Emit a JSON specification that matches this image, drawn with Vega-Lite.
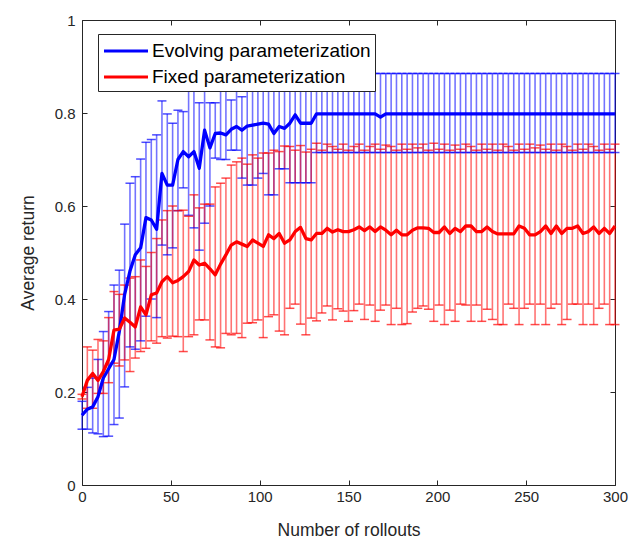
{
  "$schema": "https://vega.github.io/schema/vega-lite/v6.json",
  "width": 533,
  "height": 465,
  "autosize": {"type": "none"},
  "padding": {"left": 82, "top": 20, "right": 15, "bottom": 54},
  "background": "white",
  "config": {
    "view": {"stroke": "#262626", "strokeWidth": 1},
    "font": "Liberation Sans",
    "axis": {"grid": false, "domain": false, "labelFont": "Liberation Sans", "labelFontSize": 15, "labelColor": "#262626", "tickColor": "#262626", "tickWidth": 1, "titleFont": "Liberation Sans", "titleFontSize": 17.5, "titleFontWeight": "normal", "titleColor": "#262626", "labelFlush": false}
  },
  "data": {"values": [
    {"s":"E","x":0,"m":0.15,"lo":0.12,"hi":0.18},
    {"s":"E","x":3,"m":0.163,"lo":0.12,"hi":0.21},
    {"s":"E","x":6,"m":0.168,"lo":0.112,"hi":0.23},
    {"s":"E","x":9,"m":0.19,"lo":0.11,"hi":0.27},
    {"s":"E","x":12,"m":0.23,"lo":0.104,"hi":0.33},
    {"s":"E","x":15,"m":0.25,"lo":0.105,"hi":0.373},
    {"s":"E","x":18,"m":0.27,"lo":0.13,"hi":0.43},
    {"s":"E","x":21,"m":0.33,"lo":0.144,"hi":0.462},
    {"s":"E","x":24,"m":0.41,"lo":0.211,"hi":0.561},
    {"s":"E","x":27,"m":0.46,"lo":0.297,"hi":0.649},
    {"s":"E","x":30,"m":0.495,"lo":0.292,"hi":0.663},
    {"s":"E","x":33,"m":0.51,"lo":0.31,"hi":0.701},
    {"s":"E","x":36,"m":0.575,"lo":0.363,"hi":0.737},
    {"s":"E","x":39,"m":0.57,"lo":0.4,"hi":0.743},
    {"s":"E","x":42,"m":0.55,"lo":0.36,"hi":0.753},
    {"s":"E","x":45,"m":0.67,"lo":0.516,"hi":0.826},
    {"s":"E","x":48,"m":0.645,"lo":0.495,"hi":0.798},
    {"s":"E","x":51,"m":0.645,"lo":0.51,"hi":0.778},
    {"s":"E","x":54,"m":0.7,"lo":0.59,"hi":0.806},
    {"s":"E","x":57,"m":0.717,"lo":0.639,"hi":0.803},
    {"s":"E","x":60,"m":0.706,"lo":0.58,"hi":0.848},
    {"s":"E","x":63,"m":0.717,"lo":0.553,"hi":0.9},
    {"s":"E","x":66,"m":0.681,"lo":0.505,"hi":0.822},
    {"s":"E","x":69,"m":0.763,"lo":0.563,"hi":0.92},
    {"s":"E","x":72,"m":0.725,"lo":0.6,"hi":0.822},
    {"s":"E","x":75,"m":0.756,"lo":0.703,"hi":0.822},
    {"s":"E","x":78,"m":0.757,"lo":0.7,"hi":0.93},
    {"s":"E","x":81,"m":0.753,"lo":0.7,"hi":0.92},
    {"s":"E","x":84,"m":0.765,"lo":0.72,"hi":0.828},
    {"s":"E","x":87,"m":0.771,"lo":0.72,"hi":0.94},
    {"s":"E","x":90,"m":0.763,"lo":0.66,"hi":0.835},
    {"s":"E","x":93,"m":0.772,"lo":0.645,"hi":0.92},
    {"s":"E","x":96,"m":0.774,"lo":0.645,"hi":0.93},
    {"s":"E","x":99,"m":0.776,"lo":0.66,"hi":0.94},
    {"s":"E","x":102,"m":0.778,"lo":0.67,"hi":0.95},
    {"s":"E","x":105,"m":0.776,"lo":0.624,"hi":0.93},
    {"s":"E","x":108,"m":0.756,"lo":0.624,"hi":0.92},
    {"s":"E","x":111,"m":0.771,"lo":0.68,"hi":0.93},
    {"s":"E","x":114,"m":0.767,"lo":0.68,"hi":0.93},
    {"s":"E","x":117,"m":0.778,"lo":0.65,"hi":0.94},
    {"s":"E","x":120,"m":0.796,"lo":0.65,"hi":0.95},
    {"s":"E","x":123,"m":0.778,"lo":0.65,"hi":0.93},
    {"s":"E","x":126,"m":0.778,"lo":0.65,"hi":0.92},
    {"s":"E","x":129,"m":0.778,"lo":0.65,"hi":0.92},
    {"s":"E","x":132,"m":0.798,"lo":0.715,"hi":0.885},
    {"s":"E","x":135,"m":0.798,"lo":0.715,"hi":0.885},
    {"s":"E","x":138,"m":0.798,"lo":0.715,"hi":0.885},
    {"s":"E","x":141,"m":0.798,"lo":0.715,"hi":0.885},
    {"s":"E","x":144,"m":0.798,"lo":0.715,"hi":0.885},
    {"s":"E","x":147,"m":0.798,"lo":0.715,"hi":0.885},
    {"s":"E","x":150,"m":0.798,"lo":0.715,"hi":0.885},
    {"s":"E","x":153,"m":0.798,"lo":0.715,"hi":0.885},
    {"s":"E","x":156,"m":0.798,"lo":0.715,"hi":0.885},
    {"s":"E","x":159,"m":0.798,"lo":0.715,"hi":0.885},
    {"s":"E","x":162,"m":0.798,"lo":0.715,"hi":0.885},
    {"s":"E","x":165,"m":0.798,"lo":0.715,"hi":0.885},
    {"s":"E","x":168,"m":0.791,"lo":0.715,"hi":0.885},
    {"s":"E","x":171,"m":0.798,"lo":0.715,"hi":0.885},
    {"s":"E","x":174,"m":0.798,"lo":0.715,"hi":0.885},
    {"s":"E","x":177,"m":0.798,"lo":0.715,"hi":0.885},
    {"s":"E","x":180,"m":0.798,"lo":0.715,"hi":0.885},
    {"s":"E","x":183,"m":0.798,"lo":0.715,"hi":0.885},
    {"s":"E","x":186,"m":0.798,"lo":0.715,"hi":0.885},
    {"s":"E","x":189,"m":0.798,"lo":0.715,"hi":0.885},
    {"s":"E","x":192,"m":0.798,"lo":0.715,"hi":0.885},
    {"s":"E","x":195,"m":0.798,"lo":0.715,"hi":0.885},
    {"s":"E","x":198,"m":0.798,"lo":0.715,"hi":0.885},
    {"s":"E","x":201,"m":0.798,"lo":0.715,"hi":0.885},
    {"s":"E","x":204,"m":0.798,"lo":0.715,"hi":0.885},
    {"s":"E","x":207,"m":0.798,"lo":0.715,"hi":0.885},
    {"s":"E","x":210,"m":0.798,"lo":0.715,"hi":0.885},
    {"s":"E","x":213,"m":0.798,"lo":0.715,"hi":0.885},
    {"s":"E","x":216,"m":0.798,"lo":0.715,"hi":0.885},
    {"s":"E","x":219,"m":0.798,"lo":0.715,"hi":0.885},
    {"s":"E","x":222,"m":0.798,"lo":0.715,"hi":0.885},
    {"s":"E","x":225,"m":0.798,"lo":0.715,"hi":0.885},
    {"s":"E","x":228,"m":0.798,"lo":0.715,"hi":0.885},
    {"s":"E","x":231,"m":0.798,"lo":0.715,"hi":0.885},
    {"s":"E","x":234,"m":0.798,"lo":0.715,"hi":0.885},
    {"s":"E","x":237,"m":0.798,"lo":0.715,"hi":0.885},
    {"s":"E","x":240,"m":0.798,"lo":0.715,"hi":0.885},
    {"s":"E","x":243,"m":0.798,"lo":0.715,"hi":0.885},
    {"s":"E","x":246,"m":0.798,"lo":0.715,"hi":0.885},
    {"s":"E","x":249,"m":0.798,"lo":0.715,"hi":0.885},
    {"s":"E","x":252,"m":0.798,"lo":0.715,"hi":0.885},
    {"s":"E","x":255,"m":0.798,"lo":0.715,"hi":0.885},
    {"s":"E","x":258,"m":0.798,"lo":0.715,"hi":0.885},
    {"s":"E","x":261,"m":0.798,"lo":0.715,"hi":0.885},
    {"s":"E","x":264,"m":0.798,"lo":0.715,"hi":0.885},
    {"s":"E","x":267,"m":0.798,"lo":0.715,"hi":0.885},
    {"s":"E","x":270,"m":0.798,"lo":0.715,"hi":0.885},
    {"s":"E","x":273,"m":0.798,"lo":0.715,"hi":0.885},
    {"s":"E","x":276,"m":0.798,"lo":0.715,"hi":0.885},
    {"s":"E","x":279,"m":0.798,"lo":0.715,"hi":0.885},
    {"s":"E","x":282,"m":0.798,"lo":0.715,"hi":0.885},
    {"s":"E","x":285,"m":0.798,"lo":0.715,"hi":0.885},
    {"s":"E","x":288,"m":0.798,"lo":0.715,"hi":0.885},
    {"s":"E","x":291,"m":0.798,"lo":0.715,"hi":0.885},
    {"s":"E","x":294,"m":0.798,"lo":0.715,"hi":0.885},
    {"s":"E","x":297,"m":0.798,"lo":0.715,"hi":0.885},
    {"s":"E","x":300,"m":0.798,"lo":0.715,"hi":0.885},
    {"s":"F","x":0,"m":0.19,"lo":0.185,"hi":0.195},
    {"s":"F","x":3,"m":0.225,"lo":0.165,"hi":0.297},
    {"s":"F","x":6,"m":0.24,"lo":0.165,"hi":0.29},
    {"s":"F","x":9,"m":0.225,"lo":0.197,"hi":0.313},
    {"s":"F","x":12,"m":0.244,"lo":0.197,"hi":0.31},
    {"s":"F","x":15,"m":0.27,"lo":0.22,"hi":0.36},
    {"s":"F","x":18,"m":0.333,"lo":0.262,"hi":0.416},
    {"s":"F","x":21,"m":0.335,"lo":0.256,"hi":0.41},
    {"s":"F","x":24,"m":0.359,"lo":0.269,"hi":0.43},
    {"s":"F","x":27,"m":0.35,"lo":0.244,"hi":0.445},
    {"s":"F","x":30,"m":0.34,"lo":0.273,"hi":0.448},
    {"s":"F","x":33,"m":0.383,"lo":0.287,"hi":0.484},
    {"s":"F","x":36,"m":0.366,"lo":0.294,"hi":0.47},
    {"s":"F","x":39,"m":0.409,"lo":0.31,"hi":0.5},
    {"s":"F","x":42,"m":0.413,"lo":0.305,"hi":0.53},
    {"s":"F","x":45,"m":0.437,"lo":0.319,"hi":0.57},
    {"s":"F","x":48,"m":0.448,"lo":0.316,"hi":0.59},
    {"s":"F","x":51,"m":0.435,"lo":0.32,"hi":0.6},
    {"s":"F","x":54,"m":0.44,"lo":0.319,"hi":0.59},
    {"s":"F","x":57,"m":0.448,"lo":0.287,"hi":0.591},
    {"s":"F","x":60,"m":0.459,"lo":0.319,"hi":0.578},
    {"s":"F","x":63,"m":0.484,"lo":0.323,"hi":0.624},
    {"s":"F","x":66,"m":0.473,"lo":0.355,"hi":0.596},
    {"s":"F","x":69,"m":0.477,"lo":0.355,"hi":0.604},
    {"s":"F","x":72,"m":0.465,"lo":0.312,"hi":0.604},
    {"s":"F","x":75,"m":0.452,"lo":0.297,"hi":0.641},
    {"s":"F","x":78,"m":0.475,"lo":0.295,"hi":0.649},
    {"s":"F","x":81,"m":0.495,"lo":0.326,"hi":0.66},
    {"s":"F","x":84,"m":0.516,"lo":0.323,"hi":0.688},
    {"s":"F","x":87,"m":0.523,"lo":0.326,"hi":0.695},
    {"s":"F","x":90,"m":0.518,"lo":0.317,"hi":0.703},
    {"s":"F","x":93,"m":0.513,"lo":0.348,"hi":0.69},
    {"s":"F","x":96,"m":0.527,"lo":0.349,"hi":0.71},
    {"s":"F","x":99,"m":0.52,"lo":0.355,"hi":0.703},
    {"s":"F","x":102,"m":0.513,"lo":0.317,"hi":0.714},
    {"s":"F","x":105,"m":0.538,"lo":0.362,"hi":0.714},
    {"s":"F","x":108,"m":0.53,"lo":0.366,"hi":0.72},
    {"s":"F","x":111,"m":0.541,"lo":0.331,"hi":0.717},
    {"s":"F","x":114,"m":0.52,"lo":0.323,"hi":0.729},
    {"s":"F","x":117,"m":0.527,"lo":0.38,"hi":0.728},
    {"s":"F","x":120,"m":0.545,"lo":0.389,"hi":0.72},
    {"s":"F","x":123,"m":0.554,"lo":0.346,"hi":0.73},
    {"s":"F","x":126,"m":0.53,"lo":0.323,"hi":0.716},
    {"s":"F","x":129,"m":0.527,"lo":0.359,"hi":0.722},
    {"s":"F","x":132,"m":0.541,"lo":0.353,"hi":0.735},
    {"s":"F","x":135,"m":0.541,"lo":0.37,"hi":0.72},
    {"s":"F","x":138,"m":0.552,"lo":0.385,"hi":0.733},
    {"s":"F","x":141,"m":0.544,"lo":0.355,"hi":0.728},
    {"s":"F","x":144,"m":0.549,"lo":0.379,"hi":0.722},
    {"s":"F","x":147,"m":0.545,"lo":0.374,"hi":0.733},
    {"s":"F","x":150,"m":0.545,"lo":0.352,"hi":0.72},
    {"s":"F","x":153,"m":0.549,"lo":0.375,"hi":0.728},
    {"s":"F","x":156,"m":0.555,"lo":0.389,"hi":0.733},
    {"s":"F","x":159,"m":0.547,"lo":0.356,"hi":0.72},
    {"s":"F","x":162,"m":0.555,"lo":0.387,"hi":0.728},
    {"s":"F","x":165,"m":0.545,"lo":0.352,"hi":0.733},
    {"s":"F","x":168,"m":0.555,"lo":0.376,"hi":0.722},
    {"s":"F","x":171,"m":0.548,"lo":0.387,"hi":0.731},
    {"s":"F","x":174,"m":0.538,"lo":0.345,"hi":0.728},
    {"s":"F","x":177,"m":0.548,"lo":0.38,"hi":0.72},
    {"s":"F","x":180,"m":0.538,"lo":0.345,"hi":0.733},
    {"s":"F","x":183,"m":0.538,"lo":0.347,"hi":0.722},
    {"s":"F","x":186,"m":0.548,"lo":0.372,"hi":0.733},
    {"s":"F","x":189,"m":0.553,"lo":0.38,"hi":0.725},
    {"s":"F","x":192,"m":0.553,"lo":0.385,"hi":0.733},
    {"s":"F","x":195,"m":0.552,"lo":0.378,"hi":0.72},
    {"s":"F","x":198,"m":0.543,"lo":0.352,"hi":0.735},
    {"s":"F","x":201,"m":0.543,"lo":0.387,"hi":0.722},
    {"s":"F","x":204,"m":0.555,"lo":0.345,"hi":0.733},
    {"s":"F","x":207,"m":0.541,"lo":0.376,"hi":0.72},
    {"s":"F","x":210,"m":0.552,"lo":0.352,"hi":0.731},
    {"s":"F","x":213,"m":0.545,"lo":0.389,"hi":0.722},
    {"s":"F","x":216,"m":0.557,"lo":0.387,"hi":0.733},
    {"s":"F","x":219,"m":0.557,"lo":0.352,"hi":0.728},
    {"s":"F","x":222,"m":0.545,"lo":0.387,"hi":0.72},
    {"s":"F","x":225,"m":0.545,"lo":0.352,"hi":0.733},
    {"s":"F","x":228,"m":0.555,"lo":0.378,"hi":0.722},
    {"s":"F","x":231,"m":0.545,"lo":0.356,"hi":0.733},
    {"s":"F","x":234,"m":0.54,"lo":0.345,"hi":0.72},
    {"s":"F","x":237,"m":0.54,"lo":0.345,"hi":0.733},
    {"s":"F","x":240,"m":0.54,"lo":0.389,"hi":0.728},
    {"s":"F","x":243,"m":0.54,"lo":0.38,"hi":0.72},
    {"s":"F","x":246,"m":0.557,"lo":0.345,"hi":0.733},
    {"s":"F","x":249,"m":0.552,"lo":0.38,"hi":0.722},
    {"s":"F","x":252,"m":0.538,"lo":0.389,"hi":0.733},
    {"s":"F","x":255,"m":0.538,"lo":0.345,"hi":0.725},
    {"s":"F","x":258,"m":0.545,"lo":0.389,"hi":0.731},
    {"s":"F","x":261,"m":0.557,"lo":0.345,"hi":0.722},
    {"s":"F","x":264,"m":0.541,"lo":0.38,"hi":0.733},
    {"s":"F","x":267,"m":0.557,"lo":0.389,"hi":0.72},
    {"s":"F","x":270,"m":0.541,"lo":0.345,"hi":0.733},
    {"s":"F","x":273,"m":0.552,"lo":0.356,"hi":0.728},
    {"s":"F","x":276,"m":0.552,"lo":0.389,"hi":0.72},
    {"s":"F","x":279,"m":0.557,"lo":0.389,"hi":0.733},
    {"s":"F","x":282,"m":0.541,"lo":0.345,"hi":0.722},
    {"s":"F","x":285,"m":0.545,"lo":0.389,"hi":0.733},
    {"s":"F","x":288,"m":0.555,"lo":0.345,"hi":0.728},
    {"s":"F","x":291,"m":0.541,"lo":0.38,"hi":0.72},
    {"s":"F","x":294,"m":0.552,"lo":0.389,"hi":0.733},
    {"s":"F","x":297,"m":0.541,"lo":0.345,"hi":0.722},
    {"s":"F","x":300,"m":0.557,"lo":0.345,"hi":0.733}
  ]},
  "layer": [
    {
      "mark": {"type": "rule", "strokeWidth": 1.6, "opacity": 0.55},
      "encoding": {
        "x": {"field": "x", "type": "quantitative", "scale": {"domain": [0, 300], "nice": false},
              "axis": {"orient": "bottom", "values": [0,50,100,150,200,250,300], "ticks": false, "labelPadding": 4, "title": "Number of rollouts", "titlePadding": 17}},
        "y": {"field": "lo", "type": "quantitative", "scale": {"domain": [0, 1], "nice": false},
              "axis": {"orient": "left", "values": [0,0.2,0.4,0.6,0.8,1], "format": "~g", "ticks": false, "labelPadding": 7, "title": "Average return", "titlePadding": 17}},
        "y2": {"field": "hi"},
        "color": {"field": "s", "type": "nominal", "scale": {"domain": ["E","F"], "range": ["#0000ff","#ff0000"]}, "legend": null}
      }
    },
    {
      "mark": {"type": "tick", "orient": "horizontal", "size": 9, "thickness": 1.5},
      "encoding": {
        "x": {"field": "x", "type": "quantitative",
              "axis": {"orient": "bottom", "values": [0,50,100,150,200,250,300], "offset": -5, "tickSize": 5, "labels": false, "title": null}},
        "y": {"field": "lo", "type": "quantitative",
              "axis": {"orient": "left", "values": [0,0.2,0.4,0.6,0.8,1], "offset": -5, "tickSize": 5, "labels": false, "title": null}},
        "color": {"field": "s", "type": "nominal", "legend": null}
      }
    },
    {
      "mark": {"type": "tick", "orient": "horizontal", "size": 9, "thickness": 1.5},
      "encoding": {
        "x": {"field": "x", "type": "quantitative", "axis": null},
        "y": {"field": "hi", "type": "quantitative", "axis": null},
        "color": {"field": "s", "type": "nominal", "legend": null}
      }
    },
    {
      "mark": {"type": "line", "strokeWidth": 3.3, "strokeJoin": "round"},
      "encoding": {
        "x": {"field": "x", "type": "quantitative",
              "axis": {"orient": "top", "values": [0,50,100,150,200,250,300], "offset": -5, "tickSize": 5, "labels": false, "title": null}},
        "y": {"field": "m", "type": "quantitative",
              "axis": {"orient": "right", "values": [0,0.2,0.4,0.6,0.8,1], "offset": -5, "tickSize": 5, "labels": false, "title": null}},
        "color": {"field": "s", "type": "nominal",
                  "legend": {"orient": "none", "legendX": 16, "legendY": 14, "title": null,
                             "labelExpr": "datum.label == 'E' ? 'Evolving parameterization' : 'Fixed parameterization'",
                             "symbolType": "M-2,0H2", "symbolSize": 484, "symbolStrokeWidth": 3.2, "symbolOffset": 11,
                             "labelFont": "Liberation Sans", "labelFontSize": 19, "labelColor": "#000000", "labelLimit": 400,
                             "fillColor": "white", "strokeColor": "#262626", "padding": 4, "rowPadding": 3, "labelOffset": 13}}
      }
    }
  ],
  "resolve": {"axis": {"x": "independent", "y": "independent"}, "legend": {"color": "independent"}}
}
